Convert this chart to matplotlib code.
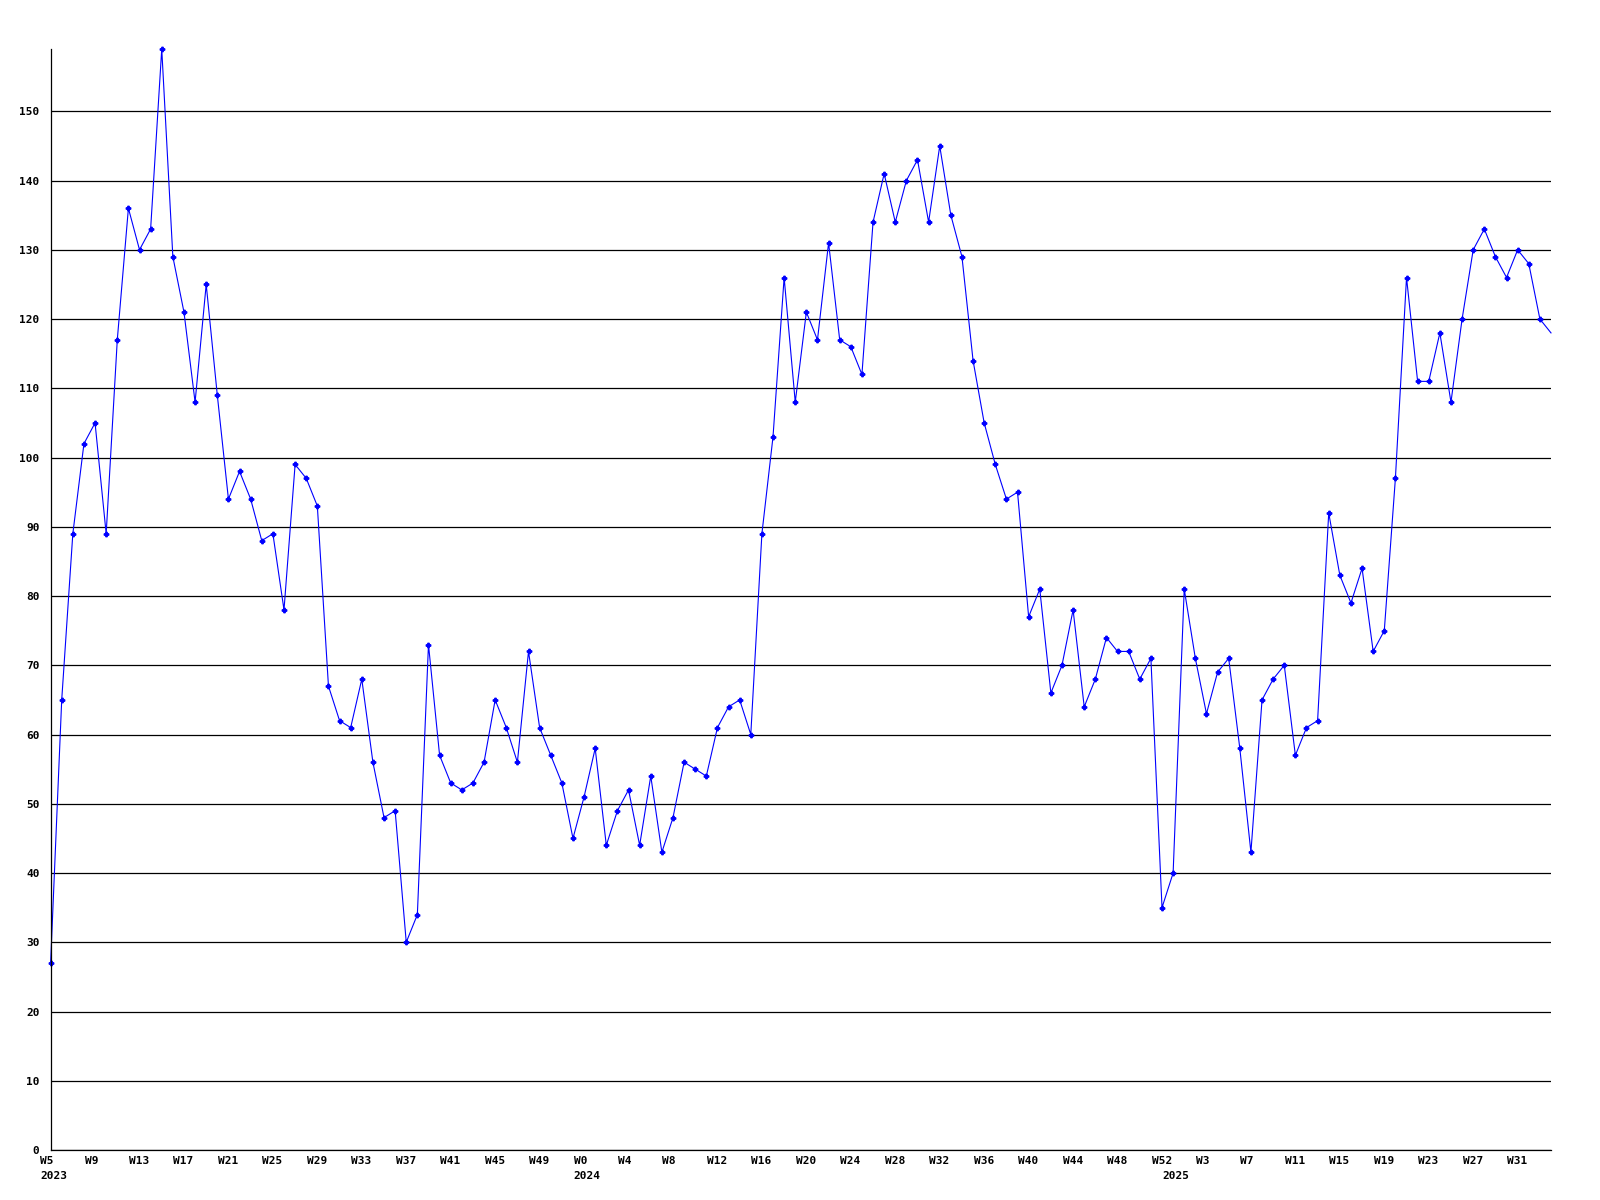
import numpy as np
import matplotlib
matplotlib.use("Agg")
import matplotlib.pyplot as plt
import matplotlib.transforms as mtransforms

# Weekly counts, 2023 W5 .. 2025 W34
weeks_2023 = list(range(5, 53))
weeks_2024 = list(range(0, 53))
weeks_2025 = list(range(0, 35))

values_2023 = [27, 65, 89, 102, 105, 89, 117, 136, 130, 133, 159, 129, 121, 108, 125, 109,
               94, 98, 94, 88, 89, 78, 99, 97, 93, 67, 62, 61, 68, 56, 48, 49,
               30, 34, 73, 57, 53, 52, 53, 56, 65, 61, 56, 72, 61, 57, 53, 45]
values_2024 = [51, 58, 44, 49, 52, 44, 54, 43, 48, 56, 55, 54, 61, 64, 65, 60,
               89, 103, 126, 108, 121, 117, 131, 117, 116, 112, 134, 141, 134, 140, 143, 134,
               145, 135, 129, 114, 105, 99, 94, 95, 77, 81, 66, 70, 78, 64, 68, 74,
               72, 72, 68, 71, 35]
values_2025 = [40, 81, 71, 63, 69, 71, 58, 43, 65, 68, 70, 57, 61, 62, 92, 83,
               79, 84, 72, 75, 97, 126, 111, 111, 118, 108, 120, 130, 133, 129, 126, 130,
               128, 120, 118]

years = [2023, 2024, 2025]
week_lists = [weeks_2023, weeks_2024, weeks_2025]
values = values_2023 + values_2024 + values_2025

labels = []
year_starts = []
for yr, wk in zip(years, week_lists):
    year_starts.append((len(labels), str(yr)))
    labels += ["W%d" % w for w in wk]

x = np.arange(len(values))

fig = plt.figure(figsize=(16, 12), dpi=100)
ax = fig.add_axes([50.6 / 1600, 50 / 1200, 1500.4 / 1600, 1101 / 1200])

ax.plot(x, values, color="#0000ff", linewidth=0.8, marker="P", markersize=3.2,
        markevery=list(range(len(values) - 1)), clip_on=False)

ax.set_xlim(0, len(values) - 1)
ax.set_ylim(0, max(values))

ax.set_yticks(range(0, 151, 10))
ax.yaxis.grid(True, color="black", linewidth=0.9)
ax.set_axisbelow(True)

font = dict(family="DejaVu Sans Mono", weight="bold", size=8)

ticks = list(range(0, len(values), 4))
ax.set_xticks(ticks, [labels[i] for i in ticks])
ax.tick_params(axis="x", length=0, pad=4)
ax.tick_params(axis="y", length=0, pad=8)
for lab in ax.get_yticklabels():
    lab.set(**font)
shift = mtransforms.ScaledTranslation(-10.5 / 100, 0, fig.dpi_scale_trans)
for lab in ax.get_xticklabels():
    lab.set(**font)
    lab.set_horizontalalignment("left")
    lab.set_transform(lab.get_transform() + shift)

for idx, yr in year_starts:
    ax.annotate(yr, xy=(idx, 0), xycoords=("data", "axes fraction"),
                xytext=(-10.5, -21), textcoords="offset pixels",
                ha="left", va="top", **font)

for side in ["top", "right"]:
    ax.spines[side].set_visible(False)
for side in ["left", "bottom"]:
    ax.spines[side].set_color("black")
    ax.spines[side].set_linewidth(0.9)

fig.savefig("out.png", dpi=100)
